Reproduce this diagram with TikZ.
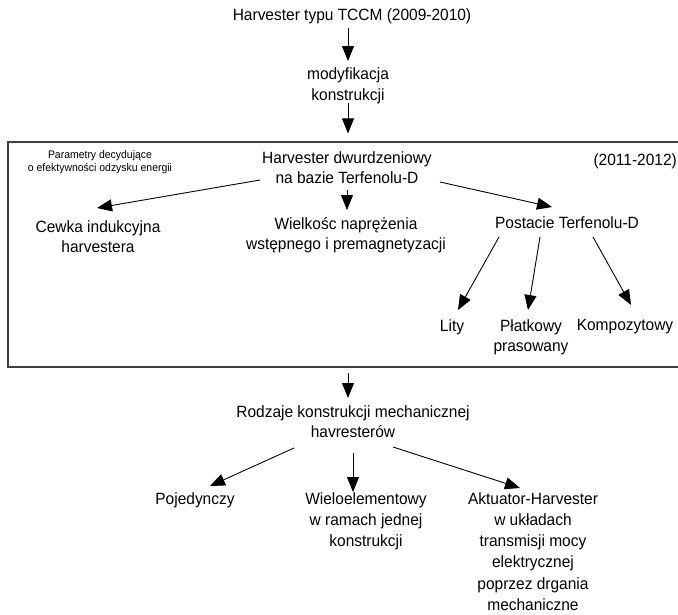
\documentclass[tikz,border=0pt]{standalone}
\usepackage{fontspec}
\setmainfont[FakeStretch=0.95]{Liberation Sans}
\usetikzlibrary{arrows.meta,calc}
\begin{document}
\begin{tikzpicture}[x=1pt,y=-1pt,
  lbl/.style={inner sep=0pt,align=center,font=\fontsize{16.3}{21}\selectfont},
  note/.style={inner sep=0pt,align=center,font=\fontsize{11}{13}\selectfont},
  arr/.style={draw=black,line width=0.9pt,-{Triangle[length=15pt,width=12pt]}},
  frame/.style={draw=black!75,line width=1.1pt,minimum width=676pt,minimum height=225pt,inner sep=0pt}]
\useasboundingbox (0,0) rectangle (678,614);

% top chain
\node[lbl] (title) at (352,16) {Harvester typu TCCM (2009-2010)};
\node[lbl] (mod) at (348,86) {modyfikacja\\konstrukcji};

% framed group (right edge runs off the page)
\node[frame] (grp) at (346,254.5) {};
\node[note] (param) at (100,162) {Parametry decydujące\\o efektywności odzysku energii};
\node[lbl,font=\fontsize{16.3}{20}\selectfont] (hd) at (347,168) {Harvester dwurdzeniowy\\na bazie Terfenolu-D};
\node[lbl,anchor=east] (years) at (677,161) {(2011-2012)};
\node[lbl,font=\fontsize{16.3}{20}\selectfont] (cewka) at (98,237) {Cewka indukcyjna\\harvestera};
\node[lbl,font=\fontsize{16.3}{20}\selectfont] (wielk) at (346,235) {Wielkośc naprężenia\\wstępnego i premagnetyzacji};
\node[lbl] (post) at (567,223) {Postacie Terfenolu-D};
\node[lbl] (lity) at (452,327) {Lity};
\node[lbl,font=\fontsize{16.3}{20}\selectfont] (platk) at (531,337) {Płatkowy\\prasowany};
\node[lbl] (komp) at (625,327) {Kompozytowy};

% bottom tree
\node[lbl,font=\fontsize{16.3}{20}\selectfont] (rodz) at (353,422) {Rodzaje konstrukcji mechanicznej\\havresterów};
\node[lbl] (poj) at (195,500) {Pojedynczy};
\node[lbl] (wielo) at (366,521) {Wieloelementowy\\w ramach jednej\\konstrukcji};
\node[lbl,font=\fontsize{16.3}{21.2}\selectfont] (akt) at (533,551.5) {Aktuator-Harvester\\w układach\\transmisji mocy\\elektrycznej\\poprzez drgania\\mechaniczne};

% connectors
\draw[arr] ($(title)+(-4,12)$) -- ($(mod)+(0,-25)$);
\draw[arr] ($(mod)+(0,17)$) -- ($(grp.north)+(2,-8)$);
\draw[arr] ($(hd)+(-87,12)$) -- ($(cewka)+(-1,-29)$);
\draw[arr] ($(hd)+(0,22)$) -- ($(wielk)+(1,-25)$);
\draw[arr] ($(hd)+(93,14)$) -- ($(post)+(-15,-16)$);
\draw[arr] ($(post)+(-68,14)$) -- ($(lity)+(6,-17)$);
\draw[arr] ($(post)+(-27,14)$) -- ($(platk)+(-3,-27)$);
\draw[arr] ($(post)+(26,14)$) -- ($(komp)+(6,-22)$);
\draw[arr] ($(grp.south)+(2,5)$) -- ($(rodz)+(-5,-24)$);
\draw[arr] ($(rodz)+(-59,26)$) -- ($(poj)+(15,-14)$);
\draw[arr] ($(rodz)+(0,31)$) -- ($(wielo)+(-13,-29)$);
\draw[arr] ($(rodz)+(40,25)$) -- ($(akt)+(-13,-63.5)$);
\end{tikzpicture}
\end{document}
